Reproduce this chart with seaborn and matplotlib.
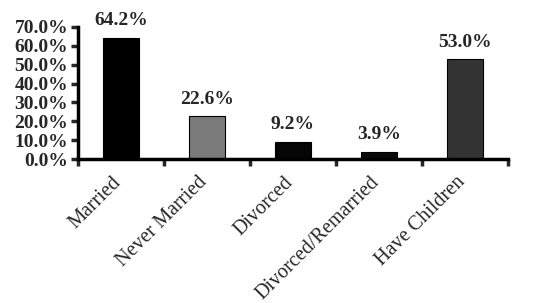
import matplotlib
matplotlib.use("Agg")
import matplotlib.pyplot as plt
import matplotlib.transforms as mtransforms
import seaborn as sns
import pandas as pd
from matplotlib.ticker import FixedLocator, FuncFormatter

categories = ["Married", "Never Married", "Divorced", "Divorced/Remarried", "Have Children"]
values = [64.2, 22.6, 9.2, 3.9, 53.0]
bar_colors = ["#000000", "#7a7a7a", "#050505", "#0a0a0a", "#333333"]
yticks = [0, 10, 20, 30, 40, 50, 60, 70]

sns.set_style("white")
plt.rcParams["font.family"] = ["Liberation Serif", "DejaVu Serif"]

df = pd.DataFrame({"cat": categories, "val": values})

fig = plt.figure(figsize=(5.33, 3.03), dpi=100)
ax = fig.add_axes([0.146, 0.475, 0.807, 0.436])
sns.barplot(data=df, x="cat", y="val", hue="cat", palette=bar_colors,
            legend=False, width=0.42, edgecolor="black", linewidth=0.8,
            saturation=1, ax=ax)

ax.set_ylim(0, 70)
ax.set_xlim(-0.5, len(categories) - 0.5)
ax.set_yticks(yticks)
ax.yaxis.set_major_formatter(FuncFormatter(lambda v, p: f"{v:.1f}%"))
for lab in ax.get_yticklabels():
    lab.set_fontweight("bold")
    lab.set_fontsize(14)
ax.tick_params(axis="y", which="major", direction="out", length=5, width=2.5, pad=2, left=True)

ax.set_xticks(range(len(categories)))
ax.set_xticklabels(categories, rotation=45, ha="right", rotation_mode="anchor", fontsize=14.5)
ax.tick_params(axis="x", which="major", length=0, pad=10)
offset = mtransforms.ScaledTranslation(-9 / 100, 0, fig.dpi_scale_trans)
for lab in ax.get_xticklabels():
    lab.set_transform(lab.get_transform() + offset)
ax.xaxis.set_minor_locator(FixedLocator([i - 0.5 for i in range(len(categories) + 1)]))
ax.tick_params(axis="x", which="minor", direction="out", length=5, width=2.5, bottom=True)

for s in ["top", "right"]:
    ax.spines[s].set_visible(False)
for s in ["left", "bottom"]:
    ax.spines[s].set_linewidth(2.5)
    ax.spines[s].set_color("black")

ax.set_xlabel("")
ax.set_ylabel("")

for i, v in enumerate(values):
    ax.text(i, v + 4.5, f"{v:.1f}%", ha="center", va="bottom",
            fontsize=14, fontweight="bold")

fig.savefig("out.png", dpi=100)
